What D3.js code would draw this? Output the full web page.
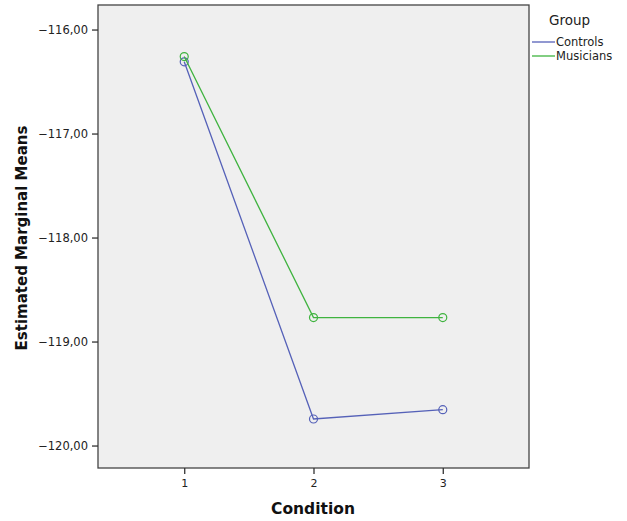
<!DOCTYPE html>
<html><head><meta charset="utf-8">
<script src="https://cdn.jsdelivr.net/npm/d3@7"></script>
<style>body{margin:0;background:#fff}svg{display:block}</style>
</head><body>
<svg id="c" width="627" height="521"></svg>
<script>
const conditions = [1, 2, 3];
const controls = [-116.31, -119.745, -119.655];
const musicians = [-116.26, -118.77, -118.77];
const yTicks = [-120, -119, -118, -117, -116];
const seriesNames = ["Controls", "Musicians"];
const colors = ["#5561b8", "#3fb33f"];

const FF = "'DejaVu Sans', Lato, sans-serif";
const svg = d3.select("#c");
const L = 98, R = 529, T = 5, B = 468;
const x = d3.scaleLinear().domain([0.333, 3.667]).range([L, R]);
const y = d3.scaleLinear().domain([-120.216, -115.764]).range([B, T]);

svg.append("rect").attr("x", L).attr("y", T).attr("width", R - L).attr("height", B - T)
  .attr("fill", "#efefef").attr("stroke", "#444").attr("stroke-width", 1.3);

const fmt = d => (d < 0 ? "\u2212" : "") + Math.abs(d).toFixed(2).replace(".", ",");
const yAxis = svg.append("g").attr("transform", `translate(${L},0)`)
  .call(d3.axisLeft(y).tickValues(yTicks).tickSize(6).tickSizeOuter(0).tickFormat(fmt));
yAxis.select(".domain").remove();
yAxis.selectAll("line").attr("stroke", "#333").attr("stroke-width", 1.3);
yAxis.selectAll("text").attr("font-family", FF).attr("font-size", 11.5).attr("fill", "#222").attr("dx", -1);

const xAxis = svg.append("g").attr("transform", `translate(0,${B})`)
  .call(d3.axisBottom(x).tickValues(conditions).tickSize(6).tickSizeOuter(0).tickFormat(d3.format("d")));
xAxis.select(".domain").remove();
xAxis.selectAll("line").attr("stroke", "#333").attr("stroke-width", 1.3);
xAxis.selectAll("text").attr("font-family", FF).attr("font-size", 11).attr("fill", "#222").attr("dy", "0.9em");

const data = [controls, musicians];
const line = d3.line().x((d, i) => x(conditions[i])).y(d => y(d));
data.forEach((vals, k) => {
  svg.append("path").datum(vals).attr("d", line).attr("fill", "none")
    .attr("stroke", colors[k]).attr("stroke-width", 1.3);
  svg.selectAll(null).data(vals).enter().append("circle")
    .attr("cx", (d, i) => x(conditions[i])).attr("cy", d => y(d)).attr("r", 4)
    .attr("fill", "none").attr("stroke", colors[k]).attr("stroke-width", 1.2);
});

svg.append("text").attr("x", 313).attr("y", 514).attr("text-anchor", "middle")
  .attr("font-family", FF).attr("font-weight", "bold")
  .attr("font-size", 15.5).attr("fill", "#111").text("Condition");
svg.append("text").attr("transform", "translate(27,238) rotate(-90)").attr("text-anchor", "middle")
  .attr("font-family", FF).attr("font-weight", "bold")
  .attr("font-size", 15).attr("fill", "#111").text("Estimated Marginal Means");

const lg = svg.append("g");
lg.append("text").attr("x", 549).attr("y", 25).attr("font-family", FF)
  .attr("font-size", 13.5).attr("fill", "#222").text("Group");
seriesNames.forEach((n, k) => {
  const yy = 42 + k * 14;
  lg.append("line").attr("x1", 532).attr("x2", 555).attr("y1", yy).attr("y2", yy)
    .attr("stroke", colors[k]).attr("stroke-width", 1.3);
  lg.append("text").attr("x", 556).attr("y", yy + 4).attr("font-family", FF)
    .attr("font-size", 11.5).attr("fill", "#222").text(n);
});
</script>
</body></html>
